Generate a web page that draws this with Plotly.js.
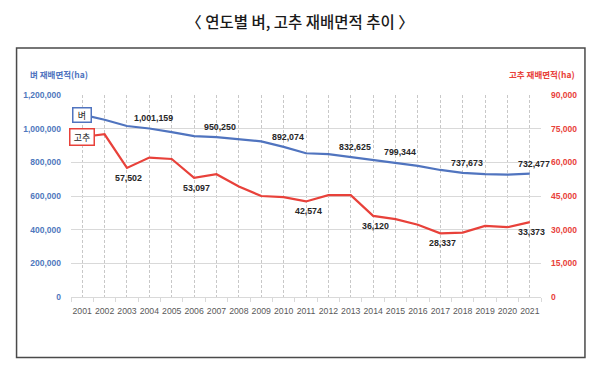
<!DOCTYPE html>
<html><head><meta charset="utf-8">
<script src="https://cdn.plot.ly/plotly-3.0.1.min.js"></script>
<style>html,body{margin:0;padding:0;background:#fff;}#chart{width:600px;height:374px;}</style>
</head><body><div id="chart"></div>
<script>
const years = [2001,2002,2003,2004,2005,2006,2007,2008,2009,2010,2011,2012,2013,2014,2015,2016,2017,2018,2019,2020,2021];
const riceArea = [1083125,1053186,1016030,1001159,979717,955229,950250,935766,924471,892074,853823,849172,832625,815506,799344,778734,754713,737673,729814,726432,732477];
const pepperArea = [71300,72500,57502,62100,61500,53097,54700,49200,45000,44500,42574,45400,45400,36120,34700,32200,28337,28700,31700,31100,33373];
const riceLabelIdx = [3,6,9,12,14,17,20];
const pepperLabelIdx = [2,5,10,13,16,20];
const leftTicks = [0,200000,400000,600000,800000,1000000,1200000];
const rightTicks = [0,15000,30000,45000,60000,75000,90000];
const seriesNames = ['벼','고추'];

const BLUE = '#5074bf', RED = '#e8413a';
const fmt = v => v.toLocaleString('en-US');
const numFont = 'Liberation Sans, Arial, sans-serif';
const krFont = 'Noto Sans CJK KR, sans-serif';

const traces = [
  {x: years, y: riceArea, type:'scatter', mode:'lines', name: seriesNames[0], line:{color:BLUE, width:2.2}, yaxis:'y', hoverinfo:'skip'},
  {x: years, y: pepperArea, type:'scatter', mode:'lines', name: seriesNames[1], line:{color:RED, width:2.2}, yaxis:'y2', hoverinfo:'skip'}
];

const annotations = [];
riceLabelIdx.forEach(i => annotations.push({x: years[i], y: riceArea[i], xref:'x', yref:'y', text: fmt(riceArea[i]), showarrow:false, yshift:10, xshift:4, font:{family:numFont, size:8.8, color:'#262626', weight:'bold'}}));
pepperLabelIdx.forEach(i => annotations.push({x: years[i], y: pepperArea[i], xref:'x', yref:'y2', text: fmt(pepperArea[i]), showarrow:false, yshift:-10, xshift:2, font:{family:numFont, size:8.8, color:'#262626', weight:'bold'}}));
annotations.push({x: years[0], y: riceArea[0], xref:'x', yref:'y', text: seriesNames[0], showarrow:false, bgcolor:'#fff', bordercolor:BLUE, borderwidth:1.5, borderpad:0, width:17, height:13, font:{family:krFont, size:9, color:'#222'}});
annotations.push({x: years[0], y: pepperArea[0], xref:'x', yref:'y2', text: seriesNames[1], showarrow:false, bgcolor:'#fff', bordercolor:RED, borderwidth:1.5, borderpad:0, width:23, height:15, font:{family:krFont, size:9, color:'#222'}});
annotations.push({x:-0.0925, y:1.104, xref:'paper', yref:'paper', xanchor:'left', yanchor:'middle', text:'벼 재배면적(ha)', showarrow:false, font:{family:krFont, size:8.5, color:BLUE, weight:'bold'}});
annotations.push({x:1.0767, y:1.104, xref:'paper', yref:'paper', xanchor:'right', yanchor:'middle', text:'고추 재배면적(ha)', showarrow:false, font:{family:krFont, size:8.5, color:RED, weight:'bold'}});

const layout = {
  width:600, height:374,
  margin:{l:70.5, r:59, t:95, b:76.7},
  paper_bgcolor:'#fff', plot_bgcolor:'#fff',
  showlegend:false,
  title:{text:'〈 연도별 벼, 고추 재배면적 추이 〉', x:0.5, xref:'container', y:1-23/374, yref:'container', yanchor:'middle', xanchor:'center', font:{family:krFont, size:15.5, color:'#1a1a1a', weight:500}},
  xaxis:{type:'linear', range:[2000.5,2021.5], tickmode:'array', tickvals:years, ticktext:years.map(String), ticks:'', tickangle:0, automargin:false, showgrid:true, gridcolor:'#c8c8c8', griddash:'3px,2px', gridwidth:1, showline:true, linecolor:'#d9d9d9', linewidth:1, zeroline:false, tickfont:{family:numFont, size:8.7, color:'#595959'}, ticklabelstandoff:6,
    minor:{tickmode:'linear', tick0:2000.5, dtick:1, ticks:'outside', ticklen:4, tickcolor:'#d9d9d9', showgrid:false}},
  yaxis:{range:[0,1200000], tickmode:'array', tickvals:leftTicks, ticktext:leftTicks.map(fmt), showgrid:true, gridcolor:'#d9d9d9', gridwidth:1, zeroline:false, showline:false, ticks:'', automargin:false, tickfont:{family:numFont, size:8.5, color:'#4f78bd', weight:'bold'}, ticklabelstandoff:9},
  yaxis2:{range:[0,90000], overlaying:'y', side:'right', tickmode:'array', tickvals:rightTicks, ticktext:rightTicks.map(fmt), showgrid:false, zeroline:false, showline:false, ticks:'', automargin:false, tickfont:{family:numFont, size:8.5, color:RED, weight:'bold'}, ticklabelstandoff:9},
  annotations: annotations,
  shapes:[{type:'rect', xref:'paper', yref:'paper', x0:(16-70.5)/470.5, x1:(585-70.5)/470.5, y0:(297.3-358)/202.3, y1:(297.3-48)/202.3, line:{color:'#4a4a4a', width:1.5}, fillcolor:'rgba(0,0,0,0)', layer:'below'}]
};

Plotly.newPlot('chart', traces, layout, {displayModeBar:false, staticPlot:true});
</script></body></html>
